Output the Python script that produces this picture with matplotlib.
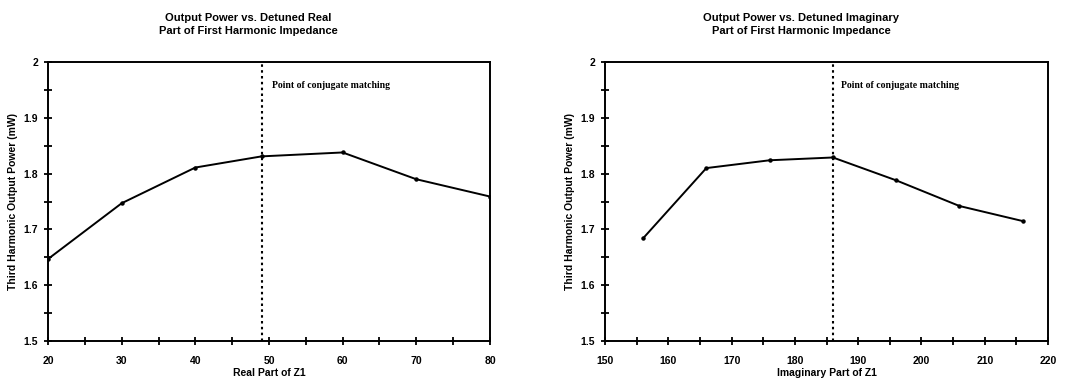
import matplotlib
matplotlib.use("Agg")
import matplotlib.pyplot as plt
from matplotlib.ticker import MultipleLocator

# Real-part sweep of Z1
real_z1 = [20, 30, 40, 49, 60, 70, 80]
real_power = [1.647, 1.747, 1.811, 1.831, 1.838, 1.790, 1.759]
real_match = 49

# Imaginary-part sweep of Z1
imag_z1 = [156, 166, 176, 186, 196, 206, 216]
imag_power = [1.684, 1.810, 1.824, 1.829, 1.788, 1.742, 1.715]
imag_match = 186

y_ticks = [1.5, 1.6, 1.7, 1.8, 1.9, 2.0]
y_tick_labels = ["1.5", "1.6", "1.7", "1.8", "1.9", "2"]
real_xticks = [20, 30, 40, 50, 60, 70, 80]
imag_xticks = [150, 160, 170, 180, 190, 200, 210, 220]

titles = [
    "Output Power vs. Detuned Real\nPart of First Harmonic Impedance",
    "Output Power vs. Detuned Imaginary\nPart of First Harmonic Impedance",
]
xlabels = ["Real Part of Z1", "Imaginary Part of Z1"]
ylabel = "Third Harmonic Output Power (mW)"
note = "Point of conjugate matching"

sans = ["Liberation Sans", "DejaVu Sans"]
serif = ["Liberation Serif", "DejaVu Serif"]

fig = plt.figure(figsize=(10.70, 3.81), dpi=100)
ax1 = fig.add_axes([0.0449, 0.105, 0.413, 0.732])
ax2 = fig.add_axes([0.5655, 0.105, 0.414, 0.732])

panels = [
    (ax1, real_z1, real_power, real_match, real_xticks, (20, 80), 5, 50.4, 0.232),
    (ax2, imag_z1, imag_power, imag_match, imag_xticks, (150, 220), 5, 187.3, 0.749),
]

for i, (ax, xs, ys, xm, xt, xlim, minor, note_x, title_x) in enumerate(panels):
    ax.plot(xs, ys, color="black", lw=1.4, marker="o", ms=2.2, zorder=3)
    ax.axvline(xm, color="black", lw=1.5, ls=(0, (1.2, 1.6)), zorder=2)
    ax.text(note_x, 1.958, note, fontsize=7, fontweight="bold", family=serif,
            va="center", ha="left")
    ax.set_xlim(*xlim)
    ax.set_ylim(1.5, 2.0)
    ax.set_xticks(xt)
    ax.set_xticklabels([str(v) for v in xt], fontsize=7.5, fontweight="bold", family=sans)
    ax.set_yticks(y_ticks)
    ax.set_yticklabels(y_tick_labels, fontsize=7.5, fontweight="bold", family=sans)
    ax.xaxis.set_minor_locator(MultipleLocator(minor))
    ax.yaxis.set_minor_locator(MultipleLocator(0.05))
    ax.tick_params(which="both", direction="inout", length=6, width=1.3,
                   top=False, right=False)
    ax.tick_params(axis="x", pad=8)
    ax.tick_params(axis="y", pad=4)
    for sp in ax.spines.values():
        sp.set_linewidth(1.4)
    ax.set_xlabel(xlabels[i], fontsize=7.5, fontweight="bold", family=sans, labelpad=1)
    ax.set_ylabel(ylabel, fontsize=7.5, fontweight="bold", family=sans, labelpad=4)
    fig.text(title_x, 0.935, titles[i], fontsize=8, fontweight="bold", family=sans,
             ha="center", va="center", linespacing=1.35)

fig.savefig("out.png", dpi=100)
